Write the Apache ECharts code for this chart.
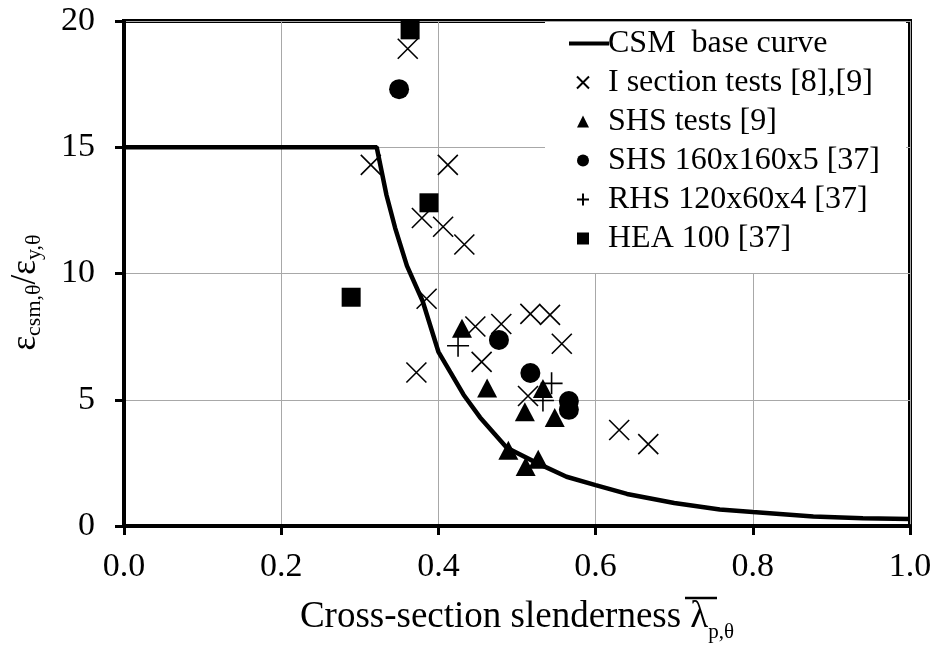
<!DOCTYPE html>
<html><head><meta charset="utf-8">
<script src="https://cdn.jsdelivr.net/npm/echarts@6/dist/echarts.min.js"></script>
<style>html,body{margin:0;padding:0;background:#fff}#c{width:937px;height:648px}</style>
</head><body><div id="c"></div>
<script>
// CSM base curve [slenderness, ratio]
const csmCurve = [[0,15],[0.3215,15],[0.334,13.1],[0.345,11.8],[0.36,10.3],[0.38,8.9],[0.40,6.9],[0.415,6.1],[0.432,5.2],[0.453,4.3],[0.487,3.1],[0.525,2.5],[0.563,1.95],[0.6,1.62],[0.64,1.27],[0.7,0.91],[0.758,0.65],[0.8,0.55],[0.877,0.38],[0.94,0.31],[1.0,0.28]];
const iSectionTests = [[0.361,18.9],[0.314,14.3],[0.412,14.3],[0.379,12.2],[0.406,11.85],[0.433,11.15],[0.385,9.0],[0.372,6.08],[0.447,7.9],[0.48,8.0],[0.517,8.4],[0.542,8.36],[0.557,7.22],[0.455,6.5],[0.514,5.15],[0.63,3.8],[0.667,3.24]];
const shsTests = [[0.43,7.83],[0.462,5.47],[0.533,5.45],[0.51,4.52],[0.548,4.3],[0.489,3.0],[0.527,2.64],[0.511,2.36]];
const shs160 = [[0.35,17.3],[0.477,7.37],[0.517,6.06],[0.566,4.95],[0.566,4.6]];
const rhs120 = [[0.425,7.14],[0.544,5.65],[0.533,4.97]];
const hea100 = [[0.364,19.65],[0.388,12.8],[0.289,9.06]];
const seriesNames = ['CSM  base curve','I section tests [8],[9]','SHS tests [9]','SHS 160x160x5 [37]','RHS 120x60x4 [37]','HEA 100 [37]'];
const xTicks = {min:0, max:1, interval:0.2};
const yTicks = {min:0, max:20, interval:5};

const FONT = '"Liberation Serif","DejaVu Serif",serif';
const crossPath = 'path://M0,0L10,10M10,0L0,10';
const plusPath = 'path://M5,0L5,10M0,5L10,5';
// legend icons: 40x12 box (the first two moves only fix the box)
const BOX = 'M0,0M40,12';
const legendIcons = [
  'path://' + BOX + 'M0,4L40,4L40,8L0,8Z',
  'path://' + BOX + 'M8,0L20,12M20,0L8,12',
  'path://' + BOX + 'M14,0L20,12L8,12Z',
  'path://' + BOX + 'M8,6A6,6,0,1,1,20,6A6,6,0,1,1,8,6Z',
  'path://' + BOX + 'M14,0L14,12M8,6L20,6',
  'path://' + BOX + 'M8,0L20,0L20,12L8,12Z'
];
const chart = echarts.init(document.getElementById('c'), null, {renderer:'canvas'});
const lineMarkStyle = {color:'transparent', borderColor:'#000', borderWidth:1.6, opacity:1};
const solid = {color:'#000', opacity:1};
chart.setOption({
  animation:false,
  backgroundColor:'#fff',
  grid:{left:124, right:27, top:21, bottom:119, show:true, borderColor:'#000', borderWidth:4, backgroundColor:'transparent'},
  legend:{
    left:545, top:22, orient:'vertical', itemGap:0, itemWidth:40, itemHeight:12,
    backgroundColor:'#fff', padding:[2,26,15,23],
    textStyle:{fontFamily:FONT, fontSize:32, color:'#000', lineHeight:39, padding:[0,0,0,-6]},
    data:seriesNames.map((n,i)=>({name:n, icon:legendIcons[i]}))
  },
  xAxis:{
    type:'value', min:xTicks.min, max:xTicks.max, interval:xTicks.interval,
    axisLine:{lineStyle:{color:'#000', width:4}},
    axisTick:{show:true, inside:false, length:9, lineStyle:{color:'#000', width:3}},
    axisLabel:{fontFamily:FONT, fontSize:34, color:'#000', margin:24, formatter:v=>v.toFixed(1)},
    splitLine:{show:true, lineStyle:{color:'#a8a8a8', width:1}},
    name:'{t|Cross-section slenderness }{l|λ}{s|p,θ}', nameLocation:'middle', nameGap:66,
    nameTextStyle:{fontFamily:FONT, color:'#000', rich:{
      t:{fontFamily:FONT, fontSize:37, color:'#000'},
      l:{fontFamily:FONT, fontSize:37, color:'#000'},
      s:{fontFamily:FONT, fontSize:21, color:'#000', verticalAlign:'bottom', padding:[30,0,0,0]}
    }}
  },
  yAxis:{
    type:'value', min:yTicks.min, max:yTicks.max, interval:yTicks.interval,
    axisLine:{lineStyle:{color:'#000', width:4}},
    axisTick:{show:true, inside:false, length:9, lineStyle:{color:'#000', width:3}},
    axisLabel:{fontFamily:FONT, fontSize:34, color:'#000', margin:29},
    splitLine:{show:true, lineStyle:{color:'#a8a8a8', width:1}},
    name:'{e|ε}{s|csm,θ}{e|/ε}{s|y,θ}', nameLocation:'middle', nameGap:79, nameRotate:90,
    nameTextStyle:{fontFamily:FONT, color:'#000', padding:[0,38,0,0], rich:{
      e:{fontFamily:FONT, fontSize:35, color:'#000'},
      s:{fontFamily:FONT, fontSize:22, color:'#000', verticalAlign:'bottom', padding:[16,0,0,0]}
    }}
  },
  graphic:[{type:'line', shape:{x1:685, y1:598, x2:717, y2:598}, style:{stroke:'#000', lineWidth:2.5}, z:10}],
  series:[
    {name:seriesNames[0], type:'line', data:csmCurve, showSymbol:false, symbol:'none', lineStyle:{color:'#000', width:4.5}, itemStyle:solid, z:3},
    {name:seriesNames[1], type:'scatter', data:iSectionTests, symbol:crossPath, symbolSize:20, itemStyle:lineMarkStyle, z:4},
    {name:seriesNames[2], type:'scatter', data:shsTests, symbol:'triangle', symbolSize:[20,19], itemStyle:solid, z:4},
    {name:seriesNames[3], type:'scatter', data:shs160, symbol:'circle', symbolSize:20, itemStyle:solid, z:4},
    {name:seriesNames[4], type:'scatter', data:rhs120, symbol:plusPath, symbolSize:22, itemStyle:lineMarkStyle, z:4},
    {name:seriesNames[5], type:'scatter', data:hea100, symbol:'rect', symbolSize:19, itemStyle:solid, z:4}
  ]
});
</script>
</body></html>
